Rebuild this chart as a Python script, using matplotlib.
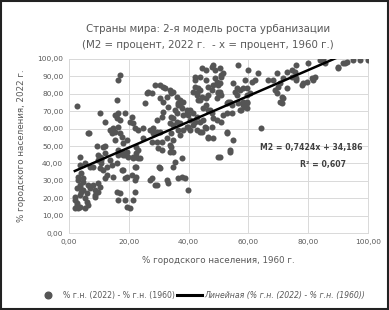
import matplotlib
matplotlib.use('Agg')
import numpy as np
import matplotlib.pyplot as plt
from matplotlib.lines import Line2D
from matplotlib.patches import Rectangle

# urban share, % (1960 -> 2022)
pct_1960 = [
    2.8, 3.7, 6.5, 10.4, 12, 9.3, 12, 7, 10.4, 10.9, 4.2, 4.8, 3.1, 3.7, 4.2, 2, 2.6, 3.7, 2, 5.4,
    5.9, 7, 8.1, 8.7, 8.7, 10.4, 12.6, 12, 11.5, 9.8, 12.6, 13.7, 14.8, 16, 11.5, 3.7, 5.4, 8.1, 9.8, 10.9,
    12, 10.9, 10.4, 3.1, 4.8, 3.7, 2.6, 4.8, 3.7, 2, 2.6, 3.1, 5.9, 6.5, 5.4, 6.5, 8.7, 9.8, 9.8, 14.3,
    16.5, 18.2, 19.8, 21.5, 22.6, 19.3, 17.6, 19.3, 22, 16.5, 18.7, 19.3, 20.4, 21.5,
    13.7, 14.8, 15.4, 16, 16.5, 15.4, 16, 17.1, 16.5, 17, 18.7, 16.5, 17, 17.6, 19.3, 18.2, 16.5, 17.6,
    18.7, 18.2, 18.7, 16, 17, 22, 22, 22.6, 21, 22.6, 21.5, 22.6, 23.2, 22.6, 23.2, 22, 23.2, 24.8, 21,
    21.5, 20.4, 14.4, 6.7, 15.4,
    27.1, 28.8, 30.2, 29.9, 31, 30.4, 25.4, 26.5, 27.7, 28.2, 27.7, 29.3, 30.4, 31.5, 32.1, 30.4, 31.5,
    32.7, 31.5, 32.7, 33.2, 33.8, 34.9, 34.3, 33.2, 33.8, 34.3, 34.9, 34.3, 33.8, 34.9, 35.5, 34.9, 37.7,
    38.8, 37.7, 36, 37.1, 36.6, 38.2, 39.4, 39.4, 39.9, 39.4, 40.5, 42.1, 43.2, 43.2,
    44.4, 47.7, 48.8, 46, 49.4, 28.8, 26, 36, 37.1, 36.6, 37.7, 35.5, 36, 38.2, 34.9, 42.7, 46, 44.9,
    46.6, 40.5, 41.6, 39.9, 42.7, 40.5, 42.1, 31, 34.3, 24.8, 27.1, 29.3, 34.9, 36.6, 38.2, 39.9, 43.8,
    45.5, 47.7, 44.4, 46.6, 48.3, 32.7, 31, 37.1, 28.2, 27.7, 29.3, 33.8, 23.7, 30.4, 27.7, 29.3, 36.6,
    49.9, 53.8, 41.6, 42.7, 43.8, 46, 46.6, 37.1,
    48.3, 51.6, 56.6, 60, 63.3, 62.2, 46, 43.8, 42.1, 51, 48.8, 50.5, 55, 58.9, 61.1, 58.3, 57.2, 59.4,
    42.1, 42.7, 43.8, 41.6, 46.6, 47.7, 48.3, 49.9, 50.5, 49.4, 43.8, 46, 46.6, 44.4, 56.1, 55.5, 59.4,
    60.5, 58.3, 58.9, 57.2, 59.4, 53.3, 52.7, 54.4, 51.6, 47.2, 47.7, 44.9, 48.3, 49.4, 51, 52.7, 55,
    53.8, 50.5, 64.4, 50.5, 51, 49.9, 49.9, 51, 56.1, 53.8, 54.4, 56.6, 58.3, 59.4, 59.4, 57.7, 52.7, 52.7,
    66.7, 68.3, 69.5, 71.7, 70.6, 72.8, 74.5, 76.1, 75.6, 78.4, 79.5, 81.2, 68.9, 69.5, 71.1, 70.6, 71.1,
    72.8, 81.7, 82.3, 90.1, 91.7, 92.9, 95.1, 97.3, 100, 76.1, 80, 84, 85.6, 85, 90, 92.3, 74.5, 76.1,
    77.8, 70, 71.7,
]
pct_2022 = [
    73, 43.9, 57.6, 69, 64, 50, 50, 38, 43.9, 42, 34.5, 31.6, 30.5, 26.6, 23.7, 20.9, 17.2, 15.1, 14.4, 19.9,
    22.8, 25.7, 27.6, 24.7, 20.9, 26.6, 33.3, 31.4, 36.2, 42, 38.1, 42, 32.4, 40, 49.6, 39.1, 40, 38.1, 44.8, 42.9,
    45.8, 40, 37.2, 32.4, 29.5, 27.6, 25.7, 24.7, 21.8, 19, 16.1, 14.2, 18, 16.1, 14.2, 27.6, 21.8, 28.6, 23.7, 39.1,
    44.8, 44.8, 43.9, 42.9, 45.8, 46.7, 36.2, 32.4, 38.1, 19, 19, 15.1, 14.2, 19,
    59.2, 60.2, 58.2, 76.4, 68.8, 67.8, 65.9, 64.9, 87.9, 90.8, 68.8, 61, 57.3, 55.3, 53.4, 51.6, 47.7, 46.7,
    44.8, 36.2, 31.4, 23.7, 22.8, 23.7, 30.5, 32.4, 33.3, 38.1, 43.9, 43.9, 42.9, 49.6, 47.7, 60.2, 59.2, 54.4, 66.9,
    63, 64, 57.5, 57.5, 53.4,
    30.5, 27.6, 38.1, 48.7, 47.7, 58.2, 74.5, 81.2, 80.2, 60.2, 59.2, 65, 85, 84.1, 83.2, 77.4, 75.5,
    78.4, 69.7, 30.5, 28.6, 82.2, 81.2, 80.2, 72.6, 63, 57.3, 53.4, 49.6, 46.7, 46.7, 41, 38.1, 32.4,
    31.4, 42.9, 64, 63, 74.5, 75.5, 70.7, 68.8, 24.7, 61, 59.2, 89.8, 83.2, 76.4,
    94.6, 95.6, 93.7, 87.9, 87, 85, 80.2, 78.4, 76.4, 73.6, 71.7, 70.7, 68.8, 67.8, 65.9, 79.3, 73.6, 71.7,
    70.7, 70.7, 68.8, 67.8, 66.9, 65, 64, 66.9, 66.9, 60.2, 59.2, 58.2, 62, 59.2, 59.2, 61, 64,
    61, 61, 58.2, 55.3, 54.4, 54.4, 52.5, 56.3, 57.3, 52.5, 52.5, 50.6, 42.9, 37.2, 31.4, 27.6, 31.4,
    43.9, 46.7, 62, 59.2, 58.2, 60.2, 54.4, 73.6,
    96.5, 91.8, 96.5, 93.7, 91.8, 87.9, 93.7, 89.8, 87.9, 89.8, 88.9, 86, 86, 87.9, 87, 83.2, 82.2, 83.2,
    84.1, 80.2, 82.2, 81.2, 84.1, 82.2, 85, 80.2, 81.2, 77.4, 76.4, 77.4, 79.3, 78.4, 79.3, 81.2, 79.3,
    80.2, 75.5, 72.6, 70.7, 74.5, 75.5, 74.5, 68.8, 67.8, 70.7, 68.8, 65, 65.9, 65, 64, 58.2, 53.4,
    47.7, 43.9, 60.2, 94.6, 90.8, 85, 81.2, 79.3, 83.2, 75.5, 73.6, 74.5, 73.6, 75.5, 71.7, 70.7, 68.8, 57.3,
    87.9, 87.9, 91.8, 88.9, 86, 92.7, 89.8, 87.9, 92.7, 86, 87, 88.9, 82.2, 80.2, 78.4, 75.5, 74.5,
    83.2, 87.9, 89.8, 95.6, 97.5, 98.4, 99.4, 99.4, 99.4, 96.5, 97.5, 99.4, 97.5, 100, 94.6, 97.5, 93.7, 88.9,
    85, 84.1, 77.4,
]

# Excel linear trendline as printed on the chart
slope = 0.7424
intercept = 34.186
r2 = 0.607

x_ticks = [0, 20, 40, 60, 80, 100]
y_ticks = [0, 10, 20, 30, 40, 50, 60, 70, 80, 90, 100]

txt = '#595959'
dot = '#555555'

fig = plt.figure(figsize=(3.89, 3.10), dpi=100)
ax = fig.add_axes([0.177, 0.248, 0.769, 0.562])

ax.scatter(pct_1960, pct_2022, s=19, color=dot, linewidths=0, zorder=3)

xs = np.array([min(pct_1960), max(pct_1960)])
ax.plot(xs, slope * xs + intercept, color='black', lw=1.8, zorder=4)

ax.set_xlim(0, 100)
ax.set_ylim(0, 100)
ax.set_xticks(x_ticks)
ax.set_yticks(y_ticks)
ax.set_xticklabels([('%.2f' % v).replace('.', ',') for v in x_ticks])
ax.set_yticklabels([('%.2f' % v).replace('.', ',') for v in y_ticks])
ax.tick_params(labelsize=5.3, colors=txt, length=0, pad=4)
ax.grid(True, color='#d9d9d9', lw=0.7)
ax.set_axisbelow(True)
for s in ax.spines.values():
    s.set_color('#d9d9d9')
    s.set_linewidth(0.7)

ax.set_xlabel('% городского населения, 1960 г.', fontsize=6.3, color=txt, labelpad=8)
ax.set_ylabel('% городского населения, 2022 г.', fontsize=6.3, color=txt, labelpad=8)

eq = 'M2 = %s' % ('%.4fx + %.3f' % (slope, intercept)).replace('.', ',')
ax.text(81, 49, eq, fontsize=5.6, color='#404040', ha='center', va='center', weight='semibold')
ax.text(85, 39.5, 'R² = ' + ('%.3f' % r2).replace('.', ','), fontsize=5.6, color='#404040',
        ha='center', va='center', weight='semibold')

fig.text(0.535, 0.905, 'Страны мира: 2-я модель роста урбанизации', fontsize=7.4, color=txt,
         ha='center', va='center')
fig.text(0.535, 0.855, '(M2 = процент, 2022 г.  - x = процент, 1960 г.)', fontsize=7.4, color=txt,
         ha='center', va='center')

handles = [
    Line2D([], [], marker='o', ls='none', color=dot, markersize=4.8),
    Line2D([], [], color='black', lw=2.2),
]
labels = ['% г.н. (2022) - % г.н. (1960)', 'Линейная (% г.н. (2022) - % г.н. (1960))']
leg = fig.legend(handles, labels, loc='center', bbox_to_anchor=(0.515, 0.048), ncol=2,
                 frameon=False, fontsize=5.6, handlelength=3.2, columnspacing=0.3,
                 handletextpad=0.3)
for t in leg.get_texts():
    t.set_color(txt)
leg.get_texts()[1].set_style('italic')

fig.patches.append(Rectangle((0.003, 0.003), 0.994, 0.994, transform=fig.transFigure,
                             fill=False, edgecolor='#222222', lw=1.5))

fig.savefig('out.png', dpi=100)
